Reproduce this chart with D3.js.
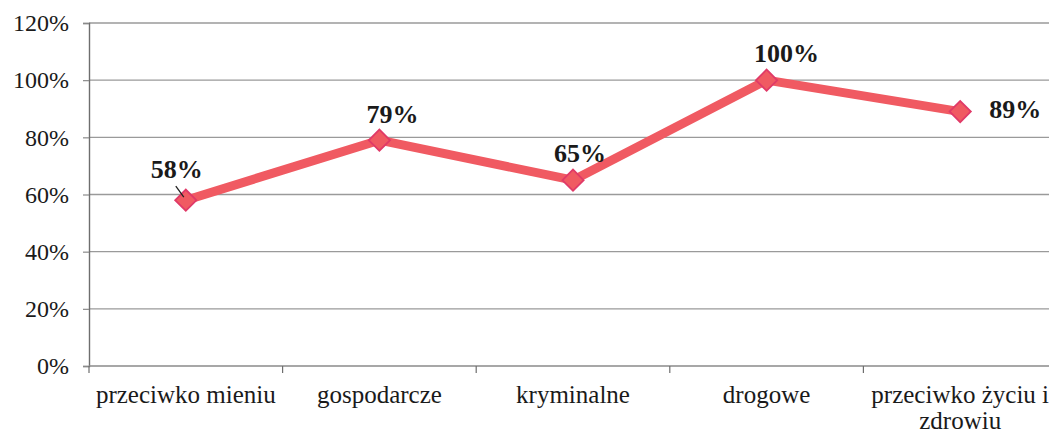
<!DOCTYPE html>
<html>
<head>
<meta charset="utf-8">
<script src="https://cdn.jsdelivr.net/npm/d3@7"></script>
<style>
  html, body { margin: 0; padding: 0; background: #fff; overflow: hidden; }
  svg { display: block; }
  svg text { font-family: "Liberation Serif", "Times New Roman", Times, serif !important; }
</style>
</head>
<body>
<svg id="chart" width="1049" height="434"></svg>
<script>
// Share of cases by category of offence
const categories = ["przeciwko mieniu", "gospodarcze", "kryminalne", "drogowe", "przeciwko życiu i zdrowiu"];
const categoryLines = [["przeciwko mieniu"], ["gospodarcze"], ["kryminalne"], ["drogowe"], ["przeciwko życiu i", "zdrowiu"]];
const values = [58, 79, 65, 100, 89];
const yTicks = [0, 20, 40, 60, 80, 100, 120];

const svg = d3.select("#chart");
const margin = { left: 89, top: 23, bottom: 366 };
const plotRight = 1057;

const x = d3.scaleBand().domain(categories).range([margin.left, plotRight]).padding(0);
const y = d3.scaleLinear().domain([0, 120]).range([margin.bottom, margin.top]);

// horizontal gridlines
svg.append("g")
  .selectAll("line")
  .data(yTicks.filter(d => d > 0))
  .join("line")
  .attr("x1", margin.left).attr("x2", plotRight)
  .attr("y1", d => y(d)).attr("y2", d => y(d))
  .attr("stroke", "#9a9a9a").attr("stroke-width", 1.3);

// y axis
const yAxis = svg.append("g")
  .attr("transform", `translate(${margin.left},0)`)
  .call(d3.axisLeft(y).tickValues(yTicks).tickFormat(d => d + "%").tickSize(6).tickPadding(14));
yAxis.select(".domain").attr("stroke", "#6e6e6e").attr("stroke-width", 1.4);
yAxis.selectAll(".tick line").attr("stroke", "#8a8a8a").attr("stroke-width", 1.2);
yAxis.selectAll(".tick text")
  .attr("font-size", 24).attr("fill", "#1a1a1a");

// x axis baseline with category boundary ticks
svg.append("line")
  .attr("x1", margin.left).attr("x2", plotRight)
  .attr("y1", y(0)).attr("y2", y(0))
  .attr("stroke", "#8a8a8a").attr("stroke-width", 1.4);
const bounds = categories.map(c => x(c)).concat([x(categories[categories.length - 1]) + x.bandwidth()]);
svg.append("g")
  .selectAll("line")
  .data(bounds)
  .join("line")
  .attr("x1", d => d).attr("x2", d => d)
  .attr("y1", y(0)).attr("y2", y(0) + 7)
  .attr("stroke", "#6e6e6e").attr("stroke-width", 1.2);

// category labels, one text element per line
const catG = svg.append("g");
categoryLines.forEach((lines, i) => {
  lines.forEach((ln, j) => {
    catG.append("text")
      .attr("x", x(categories[i]) + x.bandwidth() / 2)
      .attr("y", y(0) + 37 + j * 26)
      .attr("text-anchor", "middle")
      .attr("font-size", 25)
      .attr("fill", "#1a1a1a")
      .text(ln);
  });
});

const cx = (d, i) => x(categories[i]) + x.bandwidth() / 2;

// series line
svg.append("path")
  .datum(values)
  .attr("fill", "none")
  .attr("stroke", "#f05a62")
  .attr("stroke-width", 9)
  .attr("stroke-linejoin", "round")
  .attr("d", d3.line().x((d, i) => cx(d, i)).y(d => y(d)));

// diamond markers
svg.append("g")
  .selectAll("path")
  .data(values)
  .join("path")
  .attr("transform", (d, i) => `translate(${cx(d, i)},${y(d)}) rotate(45)`)
  .attr("d", "M-7.5,-7.5H7.5V7.5H-7.5Z")
  .attr("fill", "#f05a62")
  .attr("stroke", "#e03a68")
  .attr("stroke-width", 1.8);

// leader line for the first label
svg.append("line")
  .attr("x1", cx(values[0], 0) - 10).attr("y1", y(values[0]) - 14)
  .attr("x2", cx(values[0], 0) - 2).attr("y2", y(values[0]) - 3)
  .attr("stroke", "#222").attr("stroke-width", 1.3);

// data labels
const labelOffsets = [
  { dx: -9, dy: -22, anchor: "middle" },
  { dx: 13, dy: -17, anchor: "middle" },
  { dx: 7, dy: -18, anchor: "middle" },
  { dx: 20, dy: -18, anchor: "middle" },
  { dx: 29, dy: 6, anchor: "start" }
];
svg.append("g")
  .selectAll("text")
  .data(values)
  .join("text")
  .attr("x", (d, i) => cx(d, i) + labelOffsets[i].dx)
  .attr("y", (d, i) => y(d) + labelOffsets[i].dy)
  .attr("text-anchor", (d, i) => labelOffsets[i].anchor)
  .attr("font-size", 26)
  .attr("font-weight", "bold")
  .attr("fill", "#1a1a1a")
  .text(d => d + "%");
</script>
</body>
</html>
